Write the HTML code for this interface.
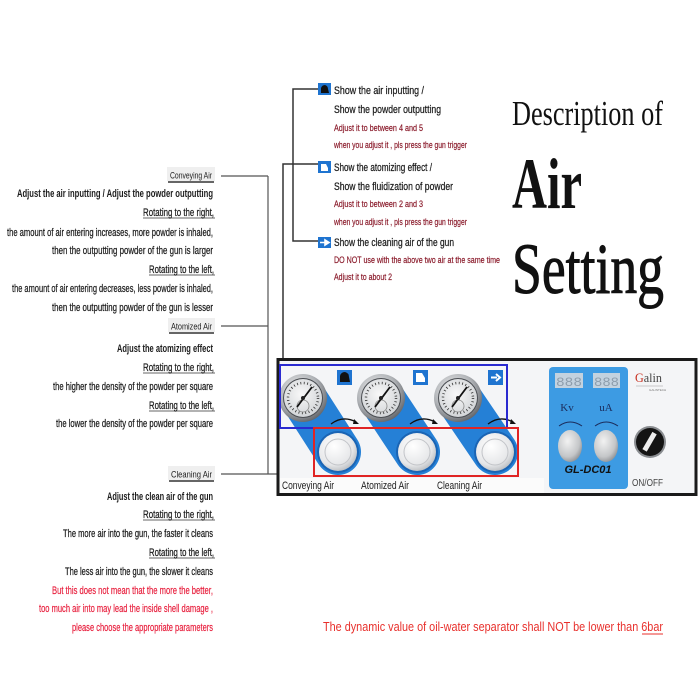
<!DOCTYPE html>
<html><head><meta charset="utf-8"><style>
html,body{margin:0;padding:0;background:#fff;}
svg{display:block;}
.t{font-family:"Liberation Sans",Arial,sans-serif;fill:#1c1c1c;}
</style></head><body>
<svg width="700" height="700" viewBox="0 0 700 700" xmlns="http://www.w3.org/2000/svg">
<defs>
<radialGradient id="ring" cx="40%" cy="35%" r="70%">
<stop offset="0" stop-color="#f4f4f4"/><stop offset="0.6" stop-color="#b0b3b7"/><stop offset="1" stop-color="#5d6065"/>
</radialGradient>
<radialGradient id="face" cx="45%" cy="40%" r="65%">
<stop offset="0" stop-color="#f8f8f8"/><stop offset="1" stop-color="#cfd2d5"/>
</radialGradient>
<radialGradient id="knob" cx="40%" cy="35%" r="70%">
<stop offset="0" stop-color="#ffffff"/><stop offset="0.7" stop-color="#e6e7e9"/><stop offset="1" stop-color="#b7babe"/>
</radialGradient>
<radialGradient id="gknob" cx="40%" cy="35%" r="70%">
<stop offset="0" stop-color="#f2f2f2"/><stop offset="0.7" stop-color="#c4c6c8"/><stop offset="1" stop-color="#8c8f93"/>
</radialGradient>
</defs>

<!-- Title -->
<text x="512" y="125" font-family="Liberation Serif,serif" font-size="35" fill="#111" textLength="151" lengthAdjust="spacingAndGlyphs">Description of</text>
<text x="512" y="208" font-family="Liberation Serif,serif" font-size="72" font-weight="bold" fill="#111" textLength="70" lengthAdjust="spacingAndGlyphs">Air</text>
<text x="512" y="293" font-family="Liberation Serif,serif" font-size="72" fill="#111" stroke="#111" stroke-width="1" textLength="152" lengthAdjust="spacingAndGlyphs">Setting</text>

<!-- Right connectors -->
<g stroke="#333" stroke-width="1.5" fill="none">
<polyline points="318,89 293,89 293,241 318,241"/>
<polyline points="318,164 283,164 283,359"/>
</g>

<!-- Right icons -->
<rect x="318" y="83" width="13" height="12" fill="#1f74d0"/>
<path d="M321,93 L321,88 Q322,85 325,85 Q328,86 328,89 L329,93 Z" fill="#111"/>
<rect x="318" y="161" width="13" height="12" fill="#1f74d0"/>
<path d="M321,171 L321,164 L326,164 L328,168 L328,171 Z" fill="#fff"/>
<rect x="318" y="237" width="13" height="11" fill="#1f74d0"/>
<path d="M320,242.5 L325,242.5 L325,240 L329,242.5 L325,245 L325,242.5" fill="#fff" stroke="#fff" stroke-width="1.6"/>

<!-- Right text -->
<g class="t" font-size="11" stroke="#1c1c1c" stroke-width="0.25">
<text x="334" y="94" textLength="90" lengthAdjust="spacingAndGlyphs">Show the air inputting /</text>
<text x="334" y="113" textLength="107" lengthAdjust="spacingAndGlyphs">Show the powder outputting</text>
<text x="334" y="171" textLength="98" lengthAdjust="spacingAndGlyphs">Show the atomizing effect /</text>
<text x="334" y="190" textLength="119" lengthAdjust="spacingAndGlyphs">Show the fluidization of powder</text>
<text x="334" y="246" textLength="120" lengthAdjust="spacingAndGlyphs">Show the cleaning air of the gun</text>
</g>
<g font-family="Liberation Sans,Arial,sans-serif" font-size="9.5" fill="#8b1c2c" stroke="#8b1c2c" stroke-width="0.2">
<text x="334" y="131" textLength="89" lengthAdjust="spacingAndGlyphs">Adjust it to between 4 and 5</text>
<text x="334" y="148" textLength="133" lengthAdjust="spacingAndGlyphs">when you adjust it , pls press the gun trigger</text>
<text x="334" y="207" textLength="89" lengthAdjust="spacingAndGlyphs">Adjust it to between 2 and 3</text>
<text x="334" y="225" textLength="133" lengthAdjust="spacingAndGlyphs">when you adjust it , pls press the gun trigger</text>
<text x="334" y="263" textLength="166" lengthAdjust="spacingAndGlyphs">DO NOT use with the above two air at the same time</text>
<text x="334" y="280" textLength="58" lengthAdjust="spacingAndGlyphs">Adjust it to about 2</text>
</g>

<!-- Left connectors -->
<g stroke="#555" stroke-width="1.2" fill="none">
<line x1="221" y1="176" x2="268" y2="176"/>
<line x1="268" y1="176" x2="268" y2="474"/>
<line x1="221" y1="326" x2="268" y2="326"/>
<line x1="221" y1="474" x2="278" y2="474"/>
</g>

<!-- Left label backgrounds -->
<rect x="167" y="167" width="48" height="14" fill="#efefef"/>
<rect x="168" y="318" width="47" height="14" fill="#efefef"/>
<rect x="168" y="466" width="47" height="14" fill="#efefef"/>
<g stroke="#333" stroke-width="1.6">
<line x1="168" y1="182" x2="214" y2="182"/>
<line x1="169" y1="333" x2="214" y2="333"/>
<line x1="169" y1="481" x2="214" y2="481"/>
</g>
<!-- underlines for Rotating lines -->
<g stroke="#666" stroke-width="1">
<line x1="143" y1="218" x2="215" y2="218"/>
<line x1="149" y1="275" x2="215" y2="275"/>
<line x1="143" y1="373" x2="215" y2="373"/>
<line x1="149" y1="411" x2="215" y2="411"/>
<line x1="143" y1="520" x2="215" y2="520"/>
<line x1="149" y1="558" x2="215" y2="558"/>
</g>

<!-- Left text -->
<g class="t" font-size="9.5" text-anchor="end" fill="#333">
<text x="212" y="178.5" textLength="42" lengthAdjust="spacingAndGlyphs">Conveying Air</text>
<text x="212" y="329.5" textLength="41" lengthAdjust="spacingAndGlyphs">Atomized Air</text>
<text x="212" y="477.5" textLength="41" lengthAdjust="spacingAndGlyphs">Cleaning Air</text>
</g>
<g class="t" font-size="11" text-anchor="end" stroke="#1c1c1c" stroke-width="0.25">
<text x="213" y="197" textLength="196" lengthAdjust="spacingAndGlyphs" font-weight="bold" stroke-width="0">Adjust the air inputting / Adjust the powder outputting</text>
<text x="214" y="216" textLength="71" lengthAdjust="spacingAndGlyphs">Rotating to the right,</text>
<text x="213" y="236" textLength="206" lengthAdjust="spacingAndGlyphs">the amount of air entering increases, more powder is inhaled,</text>
<text x="213" y="254" textLength="161" lengthAdjust="spacingAndGlyphs">then the outputting powder of the gun is larger</text>
<text x="214" y="273" textLength="65" lengthAdjust="spacingAndGlyphs">Rotating to the left,</text>
<text x="213" y="292" textLength="201" lengthAdjust="spacingAndGlyphs">the amount of air entering decreases, less powder is inhaled,</text>
<text x="213" y="311" textLength="161" lengthAdjust="spacingAndGlyphs">then the outputting powder of the gun is lesser</text>
<text x="213" y="352" textLength="96" lengthAdjust="spacingAndGlyphs" font-weight="bold" stroke-width="0">Adjust the atomizing effect</text>
<text x="214" y="371" textLength="71" lengthAdjust="spacingAndGlyphs">Rotating to the right,</text>
<text x="213" y="390" textLength="160" lengthAdjust="spacingAndGlyphs">the higher the density of the powder per square</text>
<text x="214" y="409" textLength="65" lengthAdjust="spacingAndGlyphs">Rotating to the left,</text>
<text x="213" y="427" textLength="157" lengthAdjust="spacingAndGlyphs">the lower the density of the powder per square</text>
<text x="213" y="500" textLength="106" lengthAdjust="spacingAndGlyphs" font-weight="bold" stroke-width="0">Adjust the clean air of the gun</text>
<text x="214" y="518" textLength="71" lengthAdjust="spacingAndGlyphs">Rotating to the right,</text>
<text x="213" y="537" textLength="150" lengthAdjust="spacingAndGlyphs">The more air into the gun,  the faster it cleans</text>
<text x="214" y="556" textLength="65" lengthAdjust="spacingAndGlyphs">Rotating to the left,</text>
<text x="213" y="575" textLength="148" lengthAdjust="spacingAndGlyphs">The less air into the gun,  the slower it cleans</text>
</g>
<g font-family="Liberation Sans,Arial,sans-serif" font-size="11" text-anchor="end" fill="#e8213f" stroke="#e8213f" stroke-width="0.2">
<text x="213" y="594" textLength="161" lengthAdjust="spacingAndGlyphs">But this does not mean that the more the better,</text>
<text x="213" y="612" textLength="174" lengthAdjust="spacingAndGlyphs">too much air into may lead the inside shell damage ,</text>
<text x="213" y="631" textLength="141" lengthAdjust="spacingAndGlyphs">please choose the appropriate parameters</text>
</g>

<!-- Panel -->
<rect x="278" y="359.5" width="418" height="135" fill="#f4f5f7" stroke="#1a1a1a" stroke-width="3"/>
<!-- blue bands -->
<g stroke="#2580d6" stroke-width="46" stroke-linecap="round">
<line x1="304" y1="399" x2="338" y2="452"/>
<line x1="382" y1="399" x2="417" y2="452"/>
<line x1="459" y1="399" x2="495" y2="452"/>
</g>
<rect x="280" y="478" width="264" height="15" fill="#fbfbfb"/>

<!-- gauges -->
<g transform="translate(303,398)">
<circle r="24" fill="url(#ring)"/>
<circle r="20" fill="#4a4d52"/>
<circle r="19" fill="url(#face)"/>
<circle r="15" fill="none" stroke="#333" stroke-width="2.5" stroke-dasharray="0.8 2.6"/>
<circle r="6" cy="8" fill="none" stroke="#888" stroke-width="0.8"/>
<line x1="-6" y1="9" x2="9" y2="-11" stroke="#111" stroke-width="1.8"/>
<circle r="2" fill="#222"/>
</g>
<g transform="translate(381,398)">
<circle r="24" fill="url(#ring)"/>
<circle r="20" fill="#4a4d52"/>
<circle r="19" fill="url(#face)"/>
<circle r="15" fill="none" stroke="#333" stroke-width="2.5" stroke-dasharray="0.8 2.6"/>
<circle r="6" cy="8" fill="none" stroke="#888" stroke-width="0.8"/>
<line x1="-6" y1="9" x2="9" y2="-11" stroke="#111" stroke-width="1.8"/>
<circle r="2" fill="#222"/>
</g>
<g transform="translate(458,398)">
<circle r="24" fill="url(#ring)"/>
<circle r="20" fill="#4a4d52"/>
<circle r="19" fill="url(#face)"/>
<circle r="15" fill="none" stroke="#333" stroke-width="2.5" stroke-dasharray="0.8 2.6"/>
<circle r="6" cy="8" fill="none" stroke="#888" stroke-width="0.8"/>
<line x1="-6" y1="9" x2="9" y2="-11" stroke="#111" stroke-width="1.8"/>
<circle r="2" fill="#222"/>
</g>

<!-- panel icons -->
<rect x="337" y="370" width="15" height="15" fill="#1f74d0"/>
<path d="M340,382 L340,376 Q341,372 345,372 Q349,373 349,377 L350,382 Z" fill="#111"/>
<rect x="413" y="370" width="15" height="15" fill="#1f74d0"/>
<path d="M416,382 L416,373 L422,373 L425,378 L425,382 Z" fill="#fff"/>
<rect x="488" y="370" width="15" height="15" fill="#1f74d0"/>
<path d="M491,377.5 L497,377.5 M496,374 L500,377.5 L496,381" fill="none" stroke="#fff" stroke-width="2"/>

<!-- curved arrows -->
<g fill="none" stroke="#111" stroke-width="1.3">
<path d="M331,424 Q343,415 356,422"/>
<path d="M410,424 Q422,415 435,422"/>
<path d="M488,424 Q500,415 513,422"/>
</g>
<g fill="#111">
<path d="M354,419 L359,424 L353,424 Z"/>
<path d="M433,419 L438,424 L432,424 Z"/>
<path d="M511,419 L516,424 L510,424 Z"/>
</g>

<!-- knobs -->
<g transform="translate(338,452)">
<circle r="21" fill="#1a64b4"/>
<circle r="19" fill="url(#knob)"/>
<circle r="13" fill="none" stroke="#c2c4c8" stroke-width="1"/>
</g>
<g transform="translate(417,452)">
<circle r="21" fill="#1a64b4"/>
<circle r="19" fill="url(#knob)"/>
<circle r="13" fill="none" stroke="#c2c4c8" stroke-width="1"/>
</g>
<g transform="translate(495,452)">
<circle r="21" fill="#1a64b4"/>
<circle r="19" fill="url(#knob)"/>
<circle r="13" fill="none" stroke="#c2c4c8" stroke-width="1"/>
</g>

<!-- outline rects -->
<rect x="280" y="365" width="227" height="63" fill="none" stroke="#2a2ad0" stroke-width="2"/>
<rect x="314" y="428" width="204" height="48" fill="none" stroke="#e02424" stroke-width="2"/>

<!-- panel labels -->
<g class="t" font-size="11" fill="#333">
<text x="282" y="489" textLength="52" lengthAdjust="spacingAndGlyphs">Conveying Air</text>
<text x="361" y="489" textLength="48" lengthAdjust="spacingAndGlyphs">Atomized Air</text>
<text x="437" y="489" textLength="45" lengthAdjust="spacingAndGlyphs">Cleaning Air</text>
</g>

<!-- right control unit -->
<rect x="549" y="367" width="79" height="122" rx="4" fill="#3d9be3"/>
<rect x="555" y="373" width="28" height="15" fill="#c3d2df"/>
<rect x="593" y="373" width="27" height="15" fill="#c3d2df"/>
<g font-family="Liberation Mono,monospace" font-size="13" fill="#8d9dac">
<text x="556" y="386" textLength="26" lengthAdjust="spacingAndGlyphs">888</text>
<text x="594" y="386" textLength="25" lengthAdjust="spacingAndGlyphs">888</text>
</g>
<g font-family="Liberation Serif,serif" font-size="11" fill="#1b2c5c" text-anchor="middle">
<text x="567" y="411">Kv</text>
<text x="606" y="411">uA</text>
</g>
<g fill="none" stroke="#1b2c5c" stroke-width="1">
<path d="M559,426 Q570,418 582,426"/>
<path d="M595,426 Q606,418 618,426"/>
</g>
<ellipse cx="570" cy="446" rx="12" ry="16" fill="url(#gknob)"/>
<ellipse cx="606" cy="446" rx="12" ry="16" fill="url(#gknob)"/>
<text x="588" y="473" font-family="Liberation Sans,Arial,sans-serif" font-size="11" font-weight="bold" font-style="italic" fill="#111" text-anchor="middle">GL-DC01</text>

<text x="635" y="382" font-family="Liberation Serif,serif" font-size="13" fill="#444" textLength="27" lengthAdjust="spacingAndGlyphs"><tspan fill="#c83020">G</tspan>alin</text>
<line x1="636" y1="386" x2="663" y2="386" stroke="#999" stroke-width="0.6"/>
<text x="649" y="391" font-family="Liberation Sans,sans-serif" font-size="3" fill="#777">GALINTECH</text>

<circle cx="650" cy="442" r="16" fill="#8a8d91"/>
<circle cx="650" cy="442" r="14" fill="#141414"/>
<rect x="647" y="432" width="5" height="20" fill="#eee" transform="rotate(30 650 442)"/>
<text x="632" y="486" font-family="Liberation Sans,sans-serif" font-size="10" fill="#444" textLength="31" lengthAdjust="spacingAndGlyphs">ON/OFF</text>

<!-- bottom note -->
<text x="323" y="631" font-family="Liberation Sans,Arial,sans-serif" font-size="12.5" fill="#e8302c" textLength="340" lengthAdjust="spacingAndGlyphs">The dynamic value of oil-water separator shall NOT be lower than 6bar</text>
<line x1="642" y1="634" x2="663" y2="634" stroke="#e8302c" stroke-width="1"/>
</svg>
</body></html>
